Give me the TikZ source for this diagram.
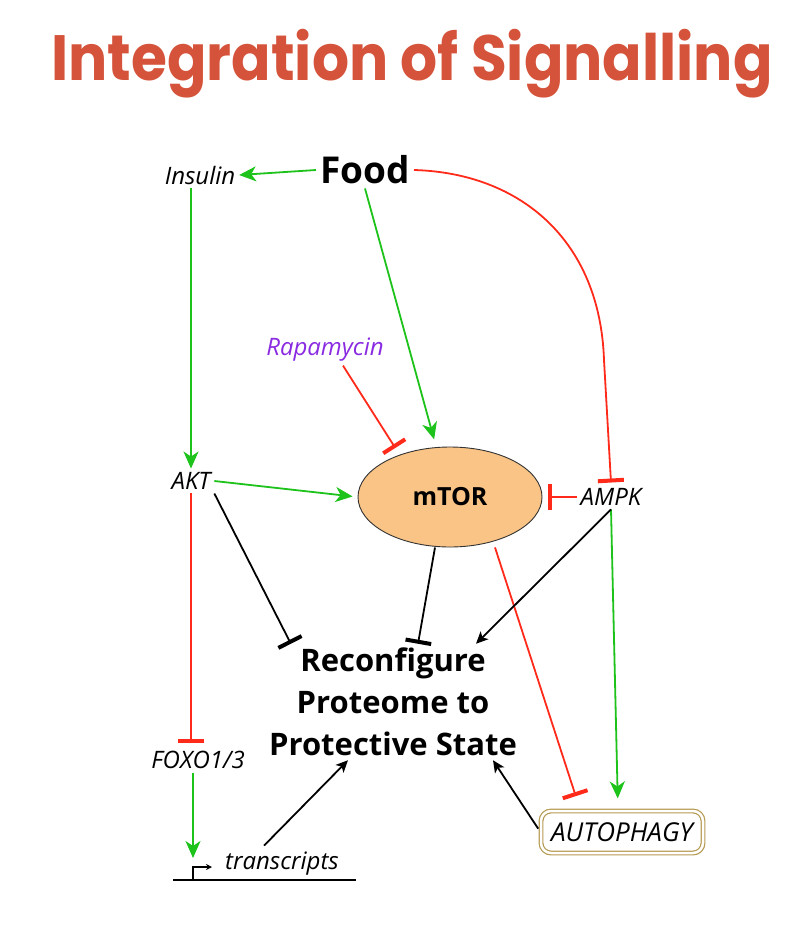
\documentclass[tikz,border=0pt]{standalone}
\usepackage{fontspec}
\setmainfont{Open Sans}
\newfontfamily\titlefont{Poppins}
\usetikzlibrary{arrows.meta,shapes.geometric,positioning,calc}
\definecolor{titlered}{HTML}{D5533A}
\definecolor{actgreen}{HTML}{1DC21A}
\definecolor{inhred}{HTML}{FF2A1A}
\definecolor{rapaviolet}{HTML}{8A2BE2}
\definecolor{mtorfill}{HTML}{F9C485}
\definecolor{autogold}{HTML}{B59A52}

\begin{document}
\begin{tikzpicture}
[x=1pt,y=-1pt, line width=1.8pt,
lbl/.style={font=\itshape\fontsize{24}{28}\selectfont, inner sep=3pt},
act/.style={actgreen,-{Stealth[length=17pt,width=15pt,inset=5pt]}},
inh/.style={inhred,-{Bar[width=26pt,line width=4pt]}},
blkact/.style={black,-{Stealth[length=12pt,width=11pt,inset=3pt]}},
blkinh/.style={black,-{Bar[width=26pt,line width=4pt]}}]
\useasboundingbox (0,0) rectangle (810,926);

\node (title) at (412,64) {\scalebox{0.91}[1]{\titlefont\bfseries\fontsize{64}{70}\selectfont\color{titlered}Integration of Signalling}};
\node (food) at (365,170) [font=\bfseries\fontsize{37}{40}\selectfont] {Food};
\node (insulin) at (200,175) [lbl] {Insulin};
\node (rapa) at (325,350) [lbl,text=rapaviolet] {Rapamycin};
\node (akt) at (191,481) [lbl] {AKT};
\node (mtor) at (450,497) [ellipse,draw=black!80,line width=0.9pt,fill=mtorfill,minimum width=184pt,minimum height=100pt,font=\bfseries\fontsize{25}{28}\selectfont] {mTOR};
\node (ampk) at (611,497) [lbl] {AMPK};
\node (state) at (393,702) [align=center,font=\bfseries\fontsize{31}{42}\selectfont] {Reconfigure\\Proteome to\\Protective State};
\node (foxo) at (198,760) [lbl] {FOXO1/3};
\node (tx) at (282,864) [lbl] {transcripts};
\node (auto) at (622,832) [lbl,font=\itshape\fontsize{26}{28}\selectfont,draw=autogold,line width=1.2pt,double=white,double distance=2.5pt,rounded corners=10pt,minimum width=162pt,minimum height=42pt] {AUTOPHAGY};

% gene and promoter
\coordinate (gl) at (173,880);
\coordinate (gr) at (356,880);
\coordinate (tss) at (193,880);
\coordinate (bend) at (604,360);
\draw[line width=2.4pt] (gl) -- (gr);
\draw[line width=1.3pt,-{Stealth[length=6pt,width=6pt]}] (tss) -- ++(0,-13) -- ++(19,0);

% activation
\draw[act] (food.west) -- (insulin.east);
\draw[act] (insulin.south -| akt.north) -- (akt.north);
\draw[act,shorten >=8pt] (food.south) -- (mtor);
\draw[act,shorten >=5pt] (akt.east) -- (mtor.west);
\draw[act,shorten >=12pt] (ampk.south) -- ([xshift=-4pt]auto.north);
\draw[act,shorten >=22pt] (foxo.south -| tss) -- (tss);

% inhibition
\draw[inh] (food.east) .. controls (520,173) and (600,240) .. (bend) -- ([yshift=2pt]ampk.north);
\draw[inh,shorten >=8pt] ([xshift=18pt]rapa.south) -- (mtor.140);
\draw[inh,shorten >=6pt] (ampk.west) -- (mtor.east);
\draw[inh,shorten >=4pt] (akt.south) -- (akt.south |- foxo.north);
\draw[inh,shorten >=15pt] ([xshift=45pt]mtor.south) -- ([xshift=40pt]auto.north west);

% towards the protective state
\draw[blkinh] (akt.south east) -- ([xshift=26pt]state.north west);
\draw[blkinh] ([xshift=-15pt]mtor.south) -- ([xshift=25pt]state.north);
\draw[blkact] (ampk.south) -- ([xshift=83pt]state.north);
\draw[blkact,shorten <=4pt] ([xshift=40pt]tx.north west) -- ([xshift=-45pt]state.south);
\draw[blkact,shorten <=4pt] (auto.west) -- ([xshift=100pt]state.south);

\end{tikzpicture}
\end{document}
